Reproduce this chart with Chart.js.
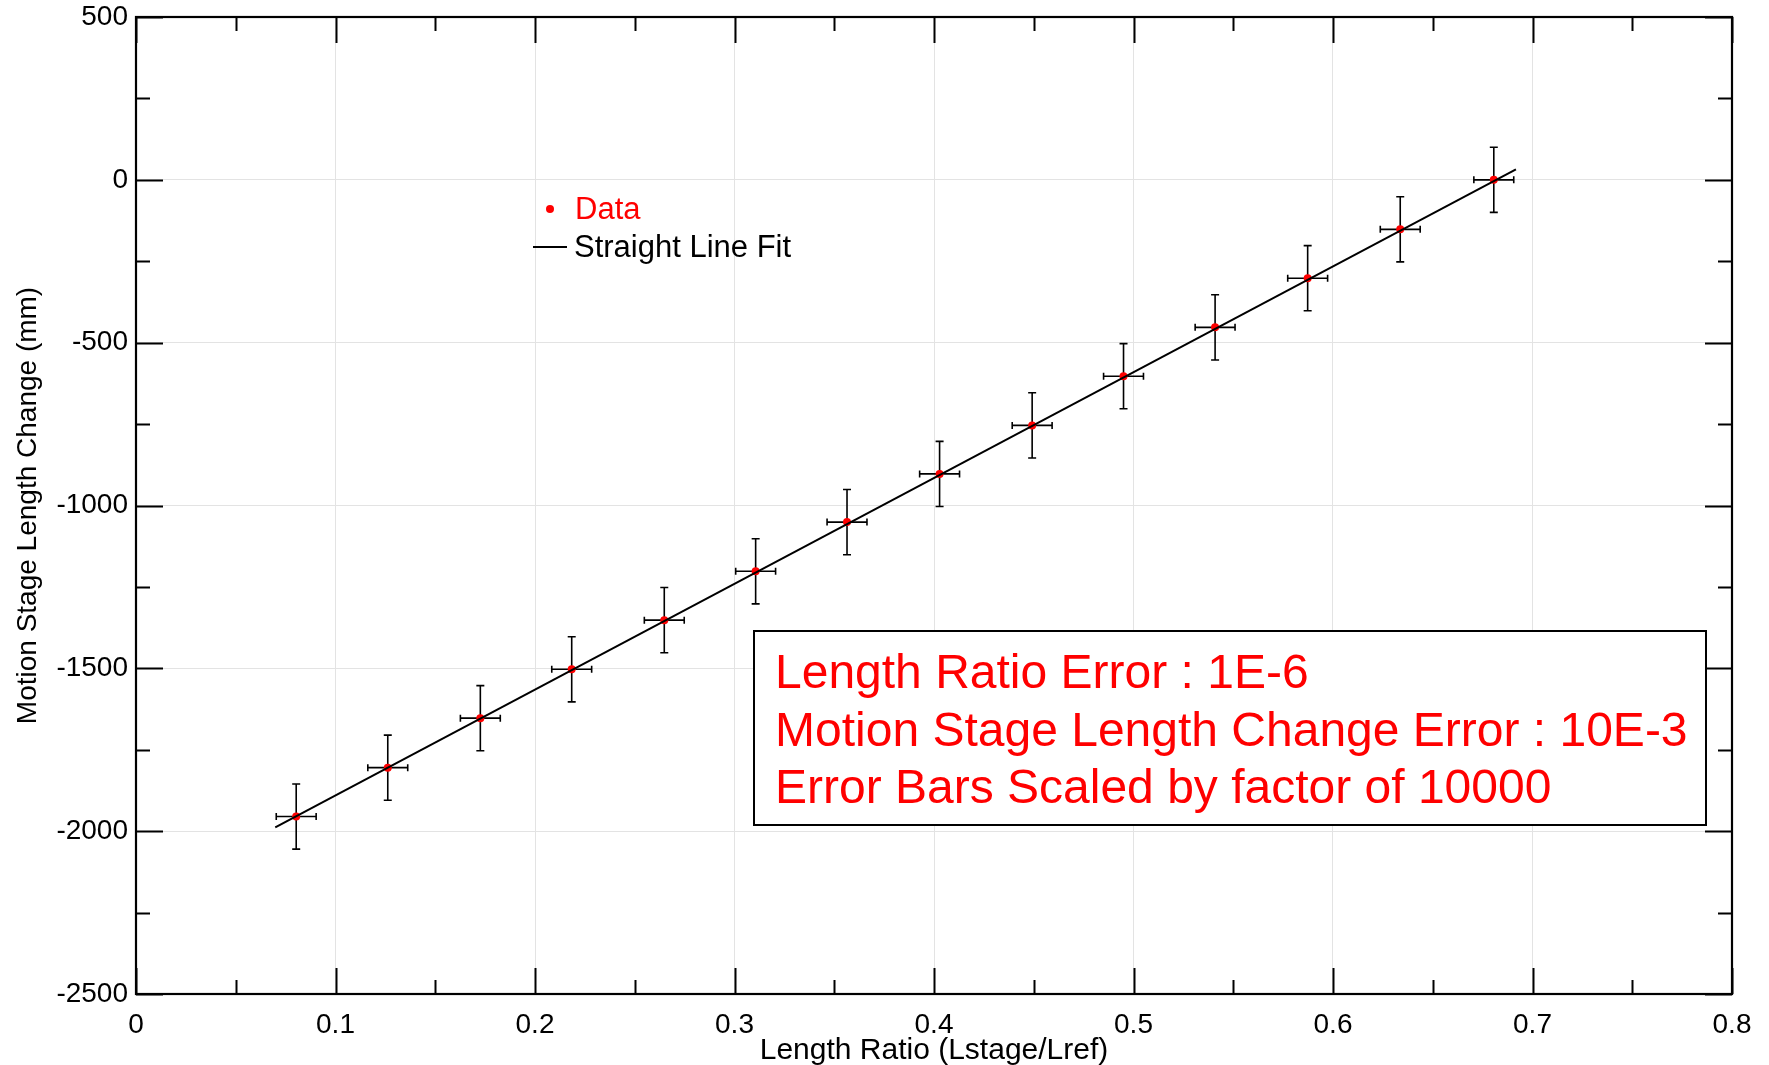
<!DOCTYPE html>
<html>
<head>
<meta charset="utf-8">
<script src="https://cdn.jsdelivr.net/npm/chart.js@4.4.1/dist/chart.umd.min.js"></script>
<style>
  html, body { margin: 0; padding: 0; background: #ffffff; }
  #wrap { position: relative; width: 1769px; height: 1065px; }
</style>
</head>
<body>
<div id="wrap"><canvas id="c"></canvas></div>
<script>
// ---- Data ----
const lengthRatio = [0.0803, 0.1262, 0.1726, 0.2184, 0.2648, 0.3106, 0.3564, 0.4028, 0.4492, 0.4950, 0.5409, 0.5873, 0.6337, 0.6806];
const stageChange = [-1955, -1805, -1653, -1503, -1352, -1202, -1051, -903, -754, -603, -453, -302, -152, 0];
const ratioError = [0.01, 0.01, 0.01, 0.01, 0.01, 0.01, 0.01, 0.01, 0.01, 0.01, 0.01, 0.01, 0.01, 0.01];
const changeError = [100, 100, 100, 100, 100, 100, 100, 100, 100, 100, 100, 100, 100, 100];
const fitRatio = [0.0698, 0.6917];
const fitChange = [-1988, 32];
const xTickValues = [0, 0.1, 0.2, 0.3, 0.4, 0.5, 0.6, 0.7, 0.8];
const yTickValues = [-2500, -2000, -1500, -1000, -500, 0, 500];
const noteLines = [
  'Length Ratio Error : 1E-6',
  'Motion Stage Length Change Error : 10E-3',
  'Error Bars Scaled by factor of 10000'
];
const seriesLabels = ['Data', 'Straight Line Fit'];
const xTitle = 'Length Ratio (Lstage/Lref)';
const yTitle = 'Motion Stage Length Change (mm)';

const FONT = '"Liberation Sans", Arial, sans-serif';

const dataPoints = lengthRatio.map((x, i) => ({ x: x, y: stageChange[i] }));
const fitPoints = fitRatio.map((x, i) => ({ x: x, y: fitChange[i] }));

// Error bars + inward ticks + frame + legend + note box
const decorations = {
  id: 'decorations',
  beforeDatasetsDraw(chart) {
    const ctx = chart.ctx;
    const xs = chart.scales.x, ys = chart.scales.y;
    ctx.save();
    ctx.strokeStyle = '#000';
    ctx.lineWidth = 1.6;
    const capV = 4, capH = 3.5;
    for (let i = 0; i < lengthRatio.length; i++) {
      const px = xs.getPixelForValue(lengthRatio[i]);
      const py = ys.getPixelForValue(stageChange[i]);
      const yTop = ys.getPixelForValue(stageChange[i] + changeError[i]);
      const yBot = ys.getPixelForValue(stageChange[i] - changeError[i]);
      const xL = xs.getPixelForValue(lengthRatio[i] - ratioError[i]);
      const xR = xs.getPixelForValue(lengthRatio[i] + ratioError[i]);
      ctx.beginPath();
      ctx.moveTo(px, yTop); ctx.lineTo(px, yBot);
      ctx.moveTo(px - capV, yTop); ctx.lineTo(px + capV, yTop);
      ctx.moveTo(px - capV, yBot); ctx.lineTo(px + capV, yBot);
      ctx.moveTo(xL, py); ctx.lineTo(xR, py);
      ctx.moveTo(xL, py - capH); ctx.lineTo(xL, py + capH);
      ctx.moveTo(xR, py - capH); ctx.lineTo(xR, py + capH);
      ctx.stroke();
    }
    ctx.restore();
  },
  afterDraw(chart) {
    const ctx = chart.ctx;
    const a = chart.chartArea;
    const xs = chart.scales.x, ys = chart.scales.y;
    ctx.save();
    // frame
    ctx.strokeStyle = '#000';
    ctx.lineWidth = 2.2;
    ctx.strokeRect(a.left, a.top, a.right - a.left, a.bottom - a.top);
    // inward ticks
    ctx.lineWidth = 2;
    ctx.beginPath();
    for (let k = 0; k <= 16; k++) {
      const v = k * 0.05;
      const len = (k % 2 === 0) ? 26 : 14;
      const p = Math.round(xs.getPixelForValue(v)) + 0.5;
      ctx.moveTo(p, a.bottom); ctx.lineTo(p, a.bottom - len);
      ctx.moveTo(p, a.top); ctx.lineTo(p, a.top + len);
    }
    for (let k = 0; k <= 12; k++) {
      const v = -2500 + k * 250;
      const len = (k % 2 === 0) ? 27 : 14;
      const p = Math.round(ys.getPixelForValue(v)) + 0.5;
      ctx.moveTo(a.left, p); ctx.lineTo(a.left + len, p);
      ctx.moveTo(a.right, p); ctx.lineTo(a.right - len, p);
    }
    ctx.stroke();

    // legend (inside plot area)
    const d0 = chart.data.datasets[1], d1 = chart.data.datasets[0];
    ctx.fillStyle = d0.backgroundColor;
    ctx.beginPath();
    ctx.arc(550, 209, 4, 0, Math.PI * 2);
    ctx.fill();
    ctx.font = '31px ' + FONT;
    ctx.textAlign = 'left';
    ctx.textBaseline = 'alphabetic';
    ctx.fillStyle = '#ff0000';
    ctx.fillText(d0.label, 575, 219);
    ctx.strokeStyle = d1.borderColor;
    ctx.lineWidth = 2;
    ctx.beginPath();
    ctx.moveTo(533, 247); ctx.lineTo(567, 247);
    ctx.stroke();
    ctx.fillStyle = '#000';
    ctx.fillText(d1.label, 574, 257);

    // note box
    const bx = 754, by = 631, bw = 1706 - 754, bh = 825 - 631;
    ctx.fillStyle = '#fff';
    ctx.fillRect(bx, by, bw, bh);
    ctx.strokeStyle = '#000';
    ctx.lineWidth = 2;
    ctx.strokeRect(bx, by, bw, bh);
    ctx.fillStyle = '#ff0000';
    ctx.font = '48px ' + FONT;
    noteLines.forEach((t, i) => ctx.fillText(t, 775, 688 + i * 57.5));
    ctx.restore();
  }
};

new Chart(document.getElementById('c'), {
  type: 'scatter',
  data: {
    datasets: [
      {
        label: seriesLabels[1],
        data: fitPoints,
        showLine: true,
        borderColor: '#000000',
        borderWidth: 2,
        pointRadius: 0,
        fill: false
      },
      {
        label: seriesLabels[0],
        data: dataPoints,
        backgroundColor: '#ff0000',
        borderColor: '#ff0000',
        pointRadius: 4,
        pointBorderWidth: 0,
        showLine: false
      }
    ]
  },
  options: {
    responsive: true,
    maintainAspectRatio: false,
    animation: false,
    events: [],
    layout: { padding: { top: 17, right: 37, left: 0, bottom: 0 } },
    plugins: {
      legend: { display: false },
      tooltip: { enabled: false },
      title: { display: false }
    },
    scales: {
      x: {
        type: 'linear',
        min: 0, max: 0.8,
        afterFit(scale) { scale.height = 71; },
        afterBuildTicks(scale) { scale.ticks = xTickValues.map(v => ({ value: v })); },
        ticks: {
          font: { family: FONT, size: 28, lineHeight: 1 }, color: '#000', padding: 17, maxRotation: 0, autoSkip: false,
          callback: v => String(Math.round(v * 10) / 10)
        },
        grid: { color: '#e3e3e3', lineWidth: 1, drawTicks: false },
        border: { display: false },
        title: {
          display: true, text: xTitle, color: '#000',
          font: { family: FONT, size: 30, lineHeight: 1 },
          padding: { top: 0, bottom: -1 }
        }
      },
      y: {
        type: 'linear',
        min: -2500, max: 500,
        afterFit(scale) { scale.width = 136; },
        afterBuildTicks(scale) { scale.ticks = yTickValues.map(v => ({ value: v })); },
        ticks: {
          font: { family: FONT, size: 28, lineHeight: 0.5 }, color: '#000', padding: 8, autoSkip: false,
          callback: v => String(v)
        },
        grid: { color: '#e3e3e3', lineWidth: 1, drawTicks: false },
        border: { display: false },
        title: {
          display: true, text: yTitle, color: '#000',
          font: { family: FONT, size: 28, lineHeight: 1 },
          padding: { top: 14, bottom: 0 }
        }
      }
    }
  },
  plugins: [decorations]
});
</script>
</body>
</html>
